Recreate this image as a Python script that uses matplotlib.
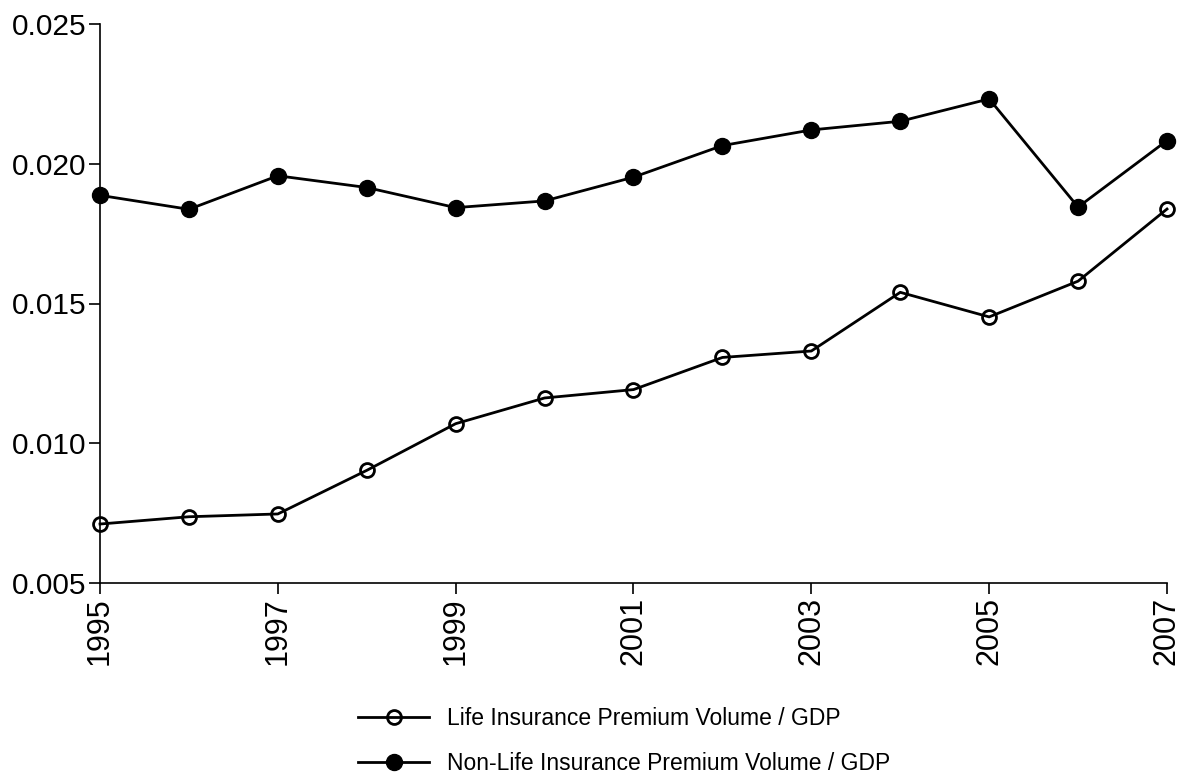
import numpy as np
import matplotlib.pyplot as plt
from matplotlib.lines import Line2D

plt.rcParams['font.family'] = ['Liberation Sans', 'DejaVu Sans']

years = [1995, 1996, 1997, 1998, 1999, 2000, 2001, 2002, 2003, 2004, 2005, 2006, 2007]
life = [0.00711, 0.00737, 0.00747, 0.00903, 0.0107, 0.01162, 0.01192, 0.01307, 0.01330,
        0.01540, 0.01452, 0.01580, 0.01838]
nonlife = [0.01887, 0.01837, 0.01957, 0.01915, 0.01843, 0.01867, 0.01952, 0.02065, 0.02121,
           0.02152, 0.02232, 0.01845, 0.02083]
xticks = [1995, 1997, 1999, 2001, 2003, 2005, 2007]
yticks = [0.005, 0.010, 0.015, 0.020, 0.025]

fig = plt.figure(figsize=(11.85, 7.75), dpi=100)
ax = fig.add_axes([100/1185, 1-583/775, 1067/1185, 559/775])

life_style = dict(color='black', lw=2, marker='o', ms=10, mfc='none', mec='black', mew=2)
nonlife_style = dict(color='black', lw=2, marker='o', ms=11.5, mfc='black', mec='black')

ax.plot(years, life, clip_on=False, zorder=3, **life_style)
ax.plot(years, nonlife, clip_on=False, zorder=3, **nonlife_style)

ax.set_xlim(1995, 2007)
ax.set_ylim(0.005, 0.025)
ax.set_xticks(xticks)
ax.set_xticklabels([str(x) for x in xticks], rotation=90, fontsize=22)
ax.set_yticks(yticks)
ax.set_yticklabels(['%.3f' % y for y in yticks], fontsize=21.5)
ax.tick_params(direction='out', length=8, width=1.2, pad=2)
for s in ['top', 'right']:
    ax.spines[s].set_visible(False)
for s in ['left', 'bottom']:
    ax.spines[s].set_linewidth(1.2)

handles = [Line2D([], [], **life_style), Line2D([], [], **nonlife_style)]
labels = ['Life Insurance Premium Volume / GDP', 'Non-Life Insurance Premium Volume / GDP']
fig.legend(handles, labels, loc='upper left', bbox_to_anchor=(358/1185, 1-707/775),
           frameon=False, fontsize=16.5, handlelength=3.1, handletextpad=0.8,
           labelspacing=0.95, borderpad=0, borderaxespad=0)

fig.savefig('out.png', dpi=100)
